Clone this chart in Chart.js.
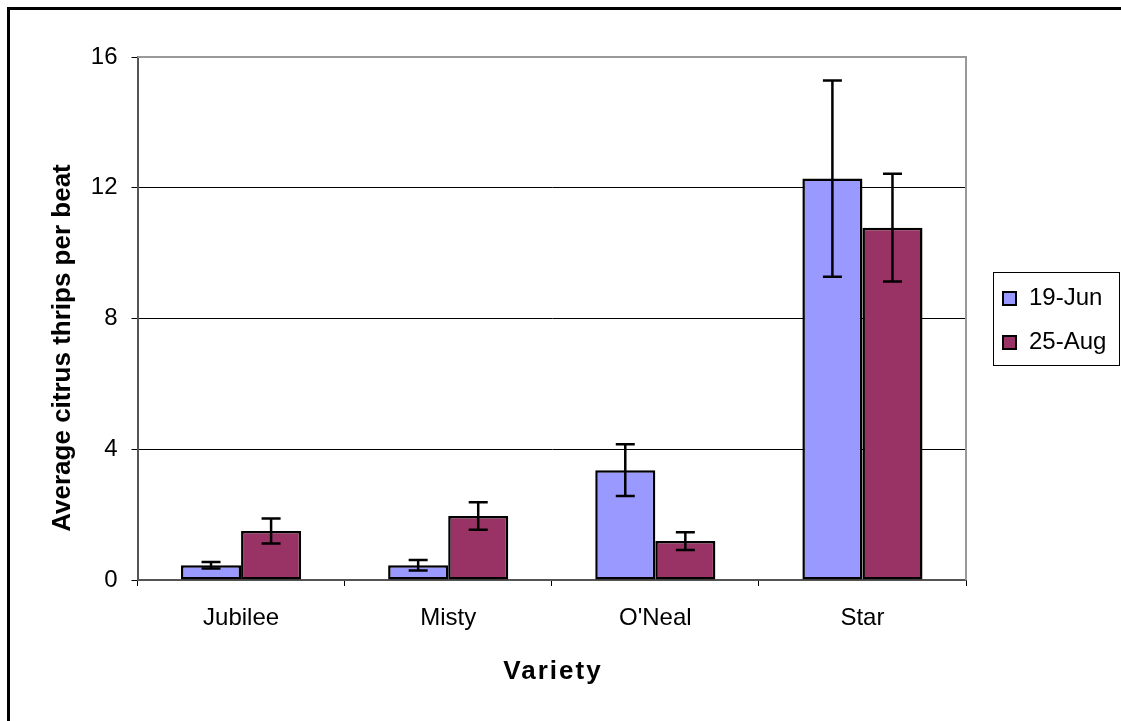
<!DOCTYPE html>
<html>
<head>
<meta charset="utf-8">
<script src="https://cdn.jsdelivr.net/npm/chart.js@4/dist/chart.umd.min.js"></script>
<style>
  body { margin: 0; background: #fff; }
  canvas { display: block; }
</style>
</head>
<body>
<canvas id="chart1" width="1121" height="721"></canvas>
<script>
// data
var categories = ['Jubilee', 'Misty', "O'Neal", 'Star'];
var seriesNames = ['19-Jun', '25-Aug'];
var jun19 = [0.45, 0.45, 3.36, 12.28];
var jun19Err = [0.10, 0.16, 0.79, 3.00];
var aug25 = [1.50, 1.96, 1.19, 10.78];
var aug25Err = [0.38, 0.42, 0.27, 1.65];
var yTicks = [0, 4, 8, 12, 16];

var font = '"Liberation Sans", Arial, sans-serif';

// error bars, outer frame, plot frame, titles and legend
var extras = {
    id: 'extras',
    beforeDraw: function (chart) {
        var ctx = chart.ctx;
        ctx.save();
        ctx.fillStyle = '#fff';
        ctx.fillRect(0, 0, chart.width, chart.height);
        ctx.restore();
    },
    afterDatasetsDraw: function (chart) {
        var ctx = chart.ctx;
        var y = chart.scales.y;
        ctx.save();
        ctx.strokeStyle = '#000';
        ctx.lineWidth = 2.5;
        chart.data.datasets.forEach(function (ds, i) {
            var meta = chart.getDatasetMeta(i);
            meta.data.forEach(function (bar, j) {
                var v = ds.data[j], e = ds.errors[j];
                var top = y.getPixelForValue(v + e);
                var bot = y.getPixelForValue(v - e);
                ctx.beginPath();
                ctx.moveTo(bar.x, top); ctx.lineTo(bar.x, bot);
                ctx.moveTo(bar.x - 9.5, top); ctx.lineTo(bar.x + 9.5, top);
                ctx.moveTo(bar.x - 9.5, bot); ctx.lineTo(bar.x + 9.5, bot);
                ctx.stroke();
            });
        });
        ctx.restore();
    },
    afterDraw: function (chart) {
        var ctx = chart.ctx;
        var a = chart.chartArea;
        ctx.save();
        // plot frame top/right
        ctx.strokeStyle = '#999';
        ctx.lineWidth = 2;
        ctx.beginPath();
        ctx.moveTo(a.left, a.top); ctx.lineTo(a.right, a.top); ctx.lineTo(a.right, a.bottom);
        ctx.stroke();
        // outer frame
        ctx.strokeStyle = '#000';
        ctx.lineWidth = 3;
        ctx.strokeRect(8.5, 8.5, chart.width + 20, chart.height + 20);

        // axis titles
        ctx.fillStyle = '#000';
        ctx.font = 'bold 26px ' + font;
        ctx.textAlign = 'center';
        ctx.textBaseline = 'middle';
        ctx.letterSpacing = '2px';
        ctx.fillText('Variety', 553, 672);
        ctx.letterSpacing = '0px';
        ctx.translate(63, 348);
        ctx.rotate(-Math.PI / 2);
        ctx.fillText('Average citrus thrips per beat', 0, 0);
        ctx.restore();

        // legend
        ctx.save();
        ctx.strokeStyle = '#000';
        ctx.lineWidth = 1;
        ctx.strokeRect(993.5, 272.5, 126, 93);
        ctx.font = '24px ' + font;
        ctx.textAlign = 'left';
        ctx.textBaseline = 'alphabetic';
        chart.data.datasets.forEach(function (ds, i) {
            var ty = 292 + i * 44;
            ctx.fillStyle = ds.backgroundColor;
            ctx.fillRect(1003, ty, 13, 13);
            ctx.lineWidth = 2;
            ctx.strokeRect(1003, ty, 13, 13);
            ctx.fillStyle = '#000';
            ctx.fillText(ds.label, 1029, ty + 13);
        });
        ctx.restore();
    }
};

var myChart = new Chart(document.getElementById('chart1'), {
    type: 'bar',
    data: {
        labels: categories,
        datasets: [{
            label: seriesNames[0],
            data: jun19,
            errors: jun19Err,
            backgroundColor: '#9999FF',
            borderColor: '#000',
            borderWidth: 2.5,
            borderSkipped: false
        }, {
            label: seriesNames[1],
            data: aug25,
            errors: aug25Err,
            backgroundColor: '#993366',
            borderColor: '#000',
            borderWidth: 2.5,
            borderSkipped: false
        }]
    },
    options: {
        responsive: false,
        animation: false,
        devicePixelRatio: 1,
        layout: { padding: { left: 10, top: 57, right: 155, bottom: 81 } },
        categoryPercentage: 0.58,
        barPercentage: 1.0,
        plugins: {
            legend: { display: false },
            tooltip: { enabled: false }
        },
        scales: {
            x: {
                afterFit: function (scale) { scale.height = 60; },
                grid: { drawOnChartArea: false, drawTicks: true, tickLength: 6, tickColor: '#000', offset: true },
                border: { color: '#555', width: 2 },
                ticks: { color: '#000', padding: 18, font: { family: font, size: 24 } }
            },
            y: {
                min: 0,
                max: 16,
                afterFit: function (scale) { scale.width = 127.5; },
                afterBuildTicks: function (scale) {
                    scale.ticks = yTicks.map(function (v) { return { value: v }; });
                },
                grid: {
                    color: function (c) { return c.tick && c.tick.value === 16 ? '#999' : '#000'; },
                    lineWidth: 1,
                    tickLength: 6,
                    tickColor: '#000'
                },
                border: { color: '#555', width: 2 },
                ticks: { color: '#000', padding: 14, font: { family: font, size: 24 } }
            }
        }
    },
    plugins: [extras]
});
</script>
</body>
</html>
